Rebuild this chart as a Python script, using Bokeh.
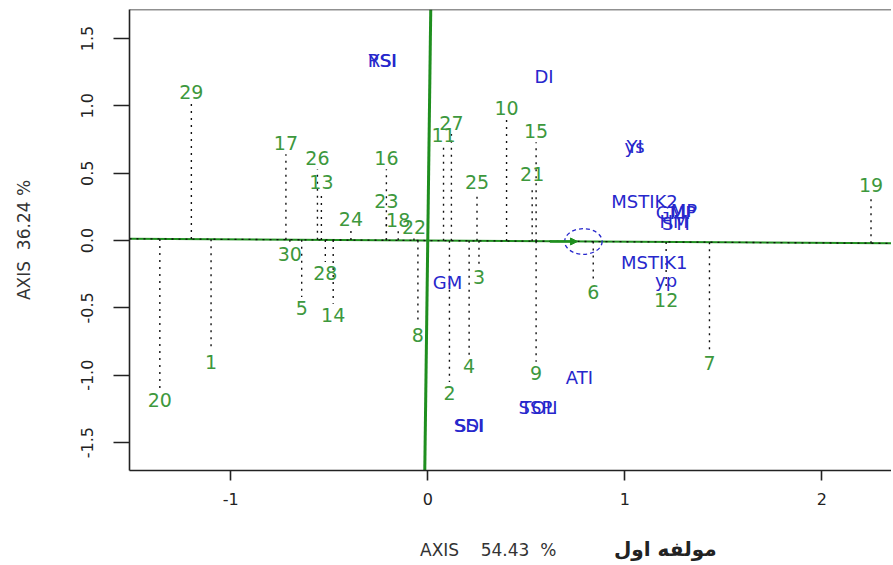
from bokeh.plotting import figure
from bokeh.layouts import column
from bokeh.models import (ColumnDataSource, Range1d, FixedTicker, NumeralTickFormatter,
                          Span, Arrow, NormalHead, Div)
from bokeh.core.properties import value
from bokeh.embed import file_html
from bokeh.resources import INLINE

# ---------------- data ----------------
genotypes = [str(i) for i in range(1, 31)]
gen_x = [-1.10, 0.11, 0.26, 0.21, -0.64, 0.84, 1.43, -0.05, 0.55, 0.40,
         0.08, 1.21, -0.54, -0.48, 0.55, -0.21, -0.72, -0.15, 2.25, -1.36,
         0.53, -0.07, -0.21, -0.39, 0.25, -0.56, 0.12, -0.52, -1.20, -0.70]
gen_y = [-0.82, -1.05, -0.19, -0.85, -0.42, -0.30, -0.83, -0.62, -0.90, 0.90,
         0.70, -0.36, 0.35, -0.47, 0.73, 0.53, 0.64, 0.07, 0.33, -1.10,
         0.41, 0.02, 0.21, 0.08, 0.35, 0.53, 0.79, -0.16, 1.02, -0.02]

traits = ["RSI", "YSI", "DI", "YI", "ys", "MSTIK2", "GMP", "MP", "HM", "STI",
          "MSTIK1", "yp", "GM", "ATI", "TOL", "SSPI", "SSI", "SDI"]
trait_x = [-0.23, -0.23, 0.59, 1.05, 1.05, 1.10, 1.26, 1.30, 1.25, 1.26,
           1.15, 1.21, 0.10, 0.77, 0.56, 0.56, 0.21, 0.21]
trait_y = [1.34, 1.34, 1.22, 0.70, 0.70, 0.29, 0.21, 0.22, 0.14, 0.13,
           -0.16, -0.30, -0.31, -1.02, -1.24, -1.24, -1.37, -1.37]

# average environment (AEC) coordinate
ae_x, ae_y = 0.79, -0.007

x_ticks = [-1, 0, 1, 2]
y_ticks = [-1.5, -1.0, -0.5, 0.0, 0.5, 1.0, 1.5]
x_title = "AXIS\u00a0\u00a0\u00a0\u00a054.43\u00a0\u00a0%"
x_title_fa = "مولفه اول"
y_title = "AXIS\u00a0\u00a036.24\u00a0%"

# ---------------- styling ----------------
GREEN_TXT = "#3d983d"
GREEN_LN = "#1f8f1f"
BLUE = "#2727cc"
FONT = "DejaVu Sans"

x_lo, x_hi = -1.514, 2.354
y_lo, y_hi = -1.707, 1.715

p = figure(width=891, height=530, output_backend="svg", toolbar_location=None,
           x_range=Range1d(x_lo, x_hi), y_range=Range1d(y_lo, y_hi),
           min_border_left=129, min_border_right=0, min_border_top=9,
           min_border_bottom=60)
p.outline_line_color = None
p.background_fill_color = "white"
p.border_fill_color = "white"
p.xgrid.visible = False
p.ygrid.visible = False

for ax in (p.xaxis[0], p.yaxis[0]):
    ax.axis_line_color = "#222222"
    ax.axis_line_width = 1.6
    ax.major_tick_line_color = "#222222"
    ax.major_tick_line_width = 1.6
    ax.major_tick_in = 0
    ax.minor_tick_line_color = None
    ax.major_label_text_font = FONT
    ax.major_label_text_color = "#222222"
    ax.major_label_text_font_size = "16px"

p.xaxis.ticker = FixedTicker(ticks=x_ticks)
p.xaxis.formatter = NumeralTickFormatter(format="0")
p.xaxis.major_tick_out = 10
p.xaxis.major_label_standoff = 12

p.yaxis.ticker = FixedTicker(ticks=y_ticks)
p.yaxis.formatter = NumeralTickFormatter(format="0.0")
p.yaxis.major_tick_out = 16
p.yaxis.major_label_standoff = 20
p.yaxis.major_label_orientation = "vertical"
p.yaxis.axis_label = y_title
p.yaxis.axis_label_text_font = FONT
p.yaxis.axis_label_text_font_size = "17px"
p.yaxis.axis_label_text_font_style = "normal"
p.yaxis.axis_label_text_color = "#333333"
p.yaxis.axis_label_standoff = 45

# top frame line
p.add_layout(Span(location=y_hi, dimension="width", line_color="#222222", line_width=1.6))

# AEC abscissa (through origin and average environment) and ordinate
abs_x = [x_lo, x_hi]
abs_y = [ae_y / ae_x * v for v in abs_x]
p.line(abs_x, abs_y, line_color=GREEN_LN, line_width=2)
p.line(abs_x, abs_y, line_color="#111111", line_width=1.3, line_dash="2 5")
ord_y = [y_lo, y_hi]
ord_x = [-ae_y / ae_x * v for v in ord_y]
p.line(ord_x, ord_y, line_color=GREEN_LN, line_width=3)

# projections of genotypes onto the AEC abscissa
src = ColumnDataSource(dict(
    x=gen_x, y=gen_y, label=genotypes,
    y0=[ae_y / ae_x * v for v in gen_x],
    off=[-11 if v >= 0 else 11 for v in gen_y],
))
p.segment(x0="x", y0="y0", x1="x", y1="y", source=src, line_color="#111111",
          line_width=1.4, line_dash="2 5")
p.text(x="x", y="y", text="label", y_offset="off", source=src,
       text_color=GREEN_TXT, text_font=value(FONT), text_font_size="19px",
       text_align="center", text_baseline="middle")

# traits
tsrc = ColumnDataSource(dict(x=trait_x, y=trait_y, label=traits))
p.text(x="x", y="y", text="label", source=tsrc, text_color=BLUE,
       text_font=value(FONT), text_font_size="18px",
       text_align="center", text_baseline="middle")

# average environment marker
p.ellipse(x=[ae_x], y=[ae_y], width=0.19, height=0.19, fill_color=None,
          line_color=BLUE, line_width=1.3, line_dash="4 3")
p.add_layout(Arrow(end=NormalHead(size=7, fill_color=GREEN_LN, line_color=GREEN_LN),
                   x_start=ae_x - 0.17, y_start=ae_y, x_end=ae_x - 0.03, y_end=ae_y,
                   line_color=GREEN_LN, line_width=2.5))

# x axis title (latin part + bold persian part)
title_html = (
    '<div style="position:relative;width:891px;height:33px;font-family:\'DejaVu Sans\';">'
    '<span style="position:absolute;left:420px;top:8px;font-size:17px;color:#333;'
    'white-space:nowrap;">' + x_title + '</span>'
    '<span style="position:absolute;left:614px;top:5px;font-size:20px;font-weight:bold;'
    'color:#222;white-space:nowrap;direction:rtl;">' + x_title_fa + '</span>'
    '</div>'
)
title_div = Div(text=title_html, width=891, height=33, margin=(0, 0, 0, 0))

layout = column(p, title_div, spacing=0)
open("out.html", "w").write(file_html(layout, INLINE))
